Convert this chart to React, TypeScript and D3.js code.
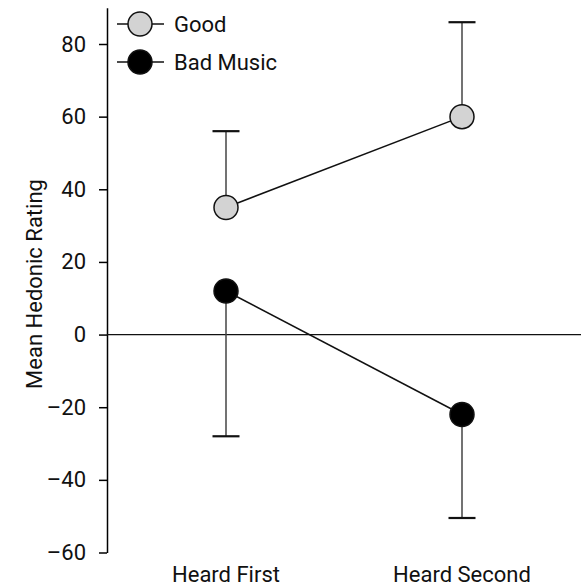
import React from 'react';
import * as d3 from 'd3';

const conditions = ['Heard First', 'Heard Second'];
const goodMeans = [35, 60];
const goodErrUpper = [56, 86];
const badMeans = [12, -22];
const badErrLower = [-28, -50.5];
const yTicks = [-60, -40, -20, 0, 20, 40, 60, 80];

const App = () => {
  const svgRef = React.useRef<SVGSVGElement>(null);
  const W = 581;
  const H = 586;
  const left = 107;
  const bottom = 552.5;

  React.useEffect(() => {
    const svg = d3.select(svgRef.current);
    svg.selectAll('*').remove();
    const font = 'Roboto, sans-serif';
    const fs = 22;

    const y = d3.scaleLinear().domain([-60, 90]).range([bottom, bottom - (150 / 140) * (bottom - 44)]);
    const x = d3.scalePoint().domain(conditions).range([226, 462]);

    // y axis
    const axis = svg.append('g')
      .attr('transform', `translate(${left},0)`)
      .call(d3.axisLeft(y).tickValues(yTicks).tickSize(8).tickSizeOuter(0).tickPadding(13)
        .tickFormat((d) => (+d < 0 ? '\u2013' + Math.abs(+d) : String(d))));
    axis.select('.domain').attr('stroke-width', 1.5);
    axis.selectAll('.tick line').attr('stroke-width', 1.5);
    axis.selectAll('text').attr('font-family', font).attr('font-size', fs).attr('fill', '#111');

    // zero line
    svg.append('line')
      .attr('x1', left).attr('x2', W)
      .attr('y1', y(0)).attr('y2', y(0))
      .attr('stroke', '#111').attr('stroke-width', 1.2);

    // x labels
    svg.append('g').selectAll('text').data(conditions).enter().append('text')
      .attr('x', (d) => x(d)!).attr('y', 582)
      .attr('text-anchor', 'middle')
      .attr('font-family', font).attr('font-size', fs).attr('fill', '#111')
      .text((d) => d);

    // y label
    svg.append('text')
      .attr('transform', 'translate(42,284) rotate(-90)')
      .attr('text-anchor', 'middle')
      .attr('font-family', font).attr('font-size', fs).attr('fill', '#111')
      .text('Mean Hedonic Rating');

    const capW = 13.5;
    const drawErr = (means: number[], ends: number[]) => {
      conditions.forEach((c, i) => {
        svg.append('line')
          .attr('x1', x(c)!).attr('x2', x(c)!)
          .attr('y1', y(means[i])).attr('y2', y(ends[i]))
          .attr('stroke', '#444').attr('stroke-width', 1.5);
        svg.append('line')
          .attr('x1', x(c)! - capW).attr('x2', x(c)! + capW)
          .attr('y1', y(ends[i])).attr('y2', y(ends[i]))
          .attr('stroke', '#111').attr('stroke-width', 2.2);
      });
    };
    drawErr(goodMeans, goodErrUpper);
    drawErr(badMeans, badErrLower);

    const line = d3.line<number>().x((_, i) => x(conditions[i])!).y((d) => y(d));
    const series = [
      { name: 'Good', values: goodMeans, fill: '#d3d3d3' },
      { name: 'Bad Music', values: badMeans, fill: '#000' },
    ];
    series.forEach((s) => {
      svg.append('path').attr('d', line(s.values)).attr('fill', 'none')
        .attr('stroke', '#111').attr('stroke-width', 1.5);
      svg.append('g').selectAll('circle').data(s.values).enter().append('circle')
        .attr('cx', (_, i) => x(conditions[i])!).attr('cy', (d) => y(d))
        .attr('r', 12).attr('fill', s.fill).attr('stroke', '#111').attr('stroke-width', 1.5);
    });

    // legend
    series.forEach((s, i) => {
      const ly = 24 + i * 38;
      svg.append('line').attr('x1', 117).attr('x2', 164).attr('y1', ly).attr('y2', ly)
        .attr('stroke', '#111').attr('stroke-width', 1.5);
      svg.append('circle').attr('cx', 140).attr('cy', ly).attr('r', 12)
        .attr('fill', s.fill).attr('stroke', '#111').attr('stroke-width', 1.5);
      svg.append('text').attr('x', 174).attr('y', ly + 8)
        .attr('font-family', font).attr('font-size', fs).attr('fill', '#111')
        .text(s.name);
    });
  }, []);

  return (
    <svg ref={svgRef} width={W} height={H}
      style={{ position: 'absolute', left: 0, top: 0, background: '#fff' }} />
  );
};

export default App;
